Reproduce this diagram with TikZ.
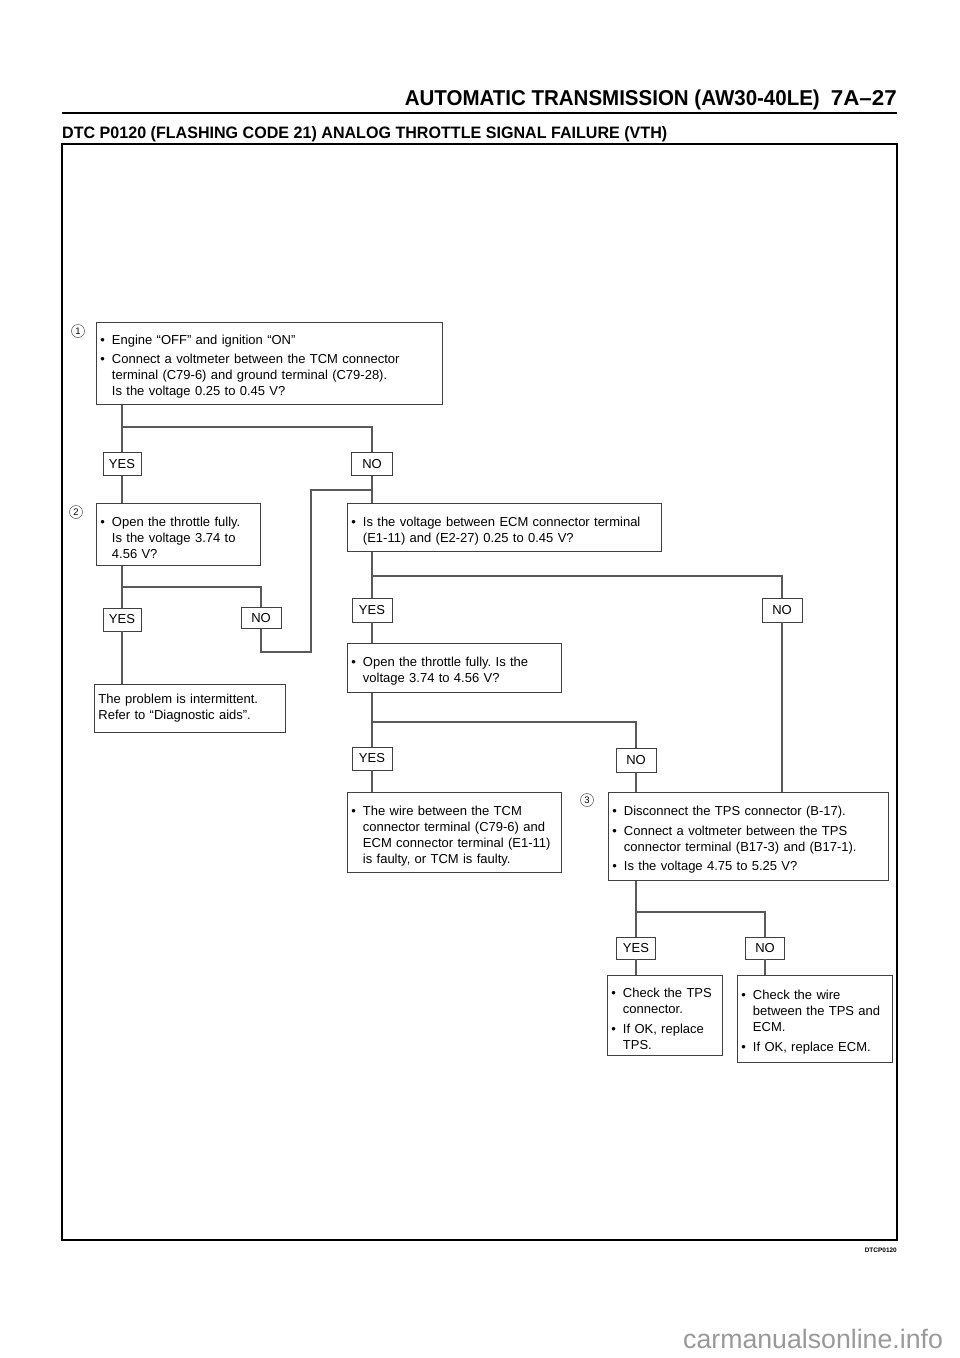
\documentclass[tikz,border=0pt]{standalone}
\usepackage{fontspec}
\setmainfont{Liberation Sans}
\usepackage{graphicx}
\usetikzlibrary{calc}
\frenchspacing
\newcommand\bodyf{\fontsize{13}{16}\selectfont\frenchspacing}
\newcommand\itm[1]{\par\hangindent=11.5pt\hangafter=1\noindent\makebox[11.5pt][l]{\textbullet}#1\par}
\newcommand\igap{\vspace{3.5pt}}
\newcommand\fitw[2]{\resizebox{#1}{\height}{#2}}
\begin{document}
\begin{tikzpicture}[x=1pt,y=-1pt,
  box/.style={draw=black!75, line width=0.9pt, inner xsep=4pt, inner ysep=3pt, anchor=north west, align=left, font=\bodyf},
  ans/.style={draw=black!75, line width=0.9pt, minimum height=23pt, inner sep=1pt, font=\bodyf},
  conn/.style={draw=black!65, line width=1.1pt},
  circ/.style={circle, draw=black!70, line width=0.5pt, inner sep=0pt, minimum size=13pt, font=\fontsize{9.5}{9.5}\selectfont}]
\useasboundingbox (0,0) rectangle (960,1358);

% header
\node[anchor=base east, inner sep=0pt] (hdr) at (820,105) {\fitw{415pt}{\bfseries\fontsize{21.5}{22}\selectfont AUTOMATIC TRANSMISSION (AW30-40LE)}};
\node[anchor=base east, inner sep=0pt] (pg) at (897,105) {\fitw{66pt}{\bfseries\fontsize{21.5}{22}\selectfont 7A–27}};
\draw[line width=2.2pt] (62,113) -- (897,113);
\node[anchor=base west, inner sep=0pt] (ttl) at (62,138.5) {\fitw{605pt}{\bfseries\fontsize{16.5}{17}\selectfont DTC P0120 (FLASHING CODE 21) ANALOG THROTTLE SIGNAL FAILURE (VTH)}};
\draw[line width=1.6pt] (62,144) rectangle (897,1240);
\node[anchor=base east, inner sep=0pt] (code) at (897,1252) {\fitw{32pt}{\bfseries\fontsize{6.5}{7}\selectfont DTCP0120}};
\node[anchor=base west, inner sep=0pt, text=black!40, font=\fontsize{26.7}{27}\selectfont] (wm) at (683,1348) {carmanualsonline.info};

% circled step numbers
\node[circ] (c1) at (78,331) {1};
\node[circ] (c2) at (76,512) {2};
\node[circ] (c3) at (587,800) {3};

% boxes
\node[box, minimum width=346pt, minimum height=82pt, text width=338pt] (b1) at (96,322) {%
\itm{Engine “OFF” and ignition “ON”}\igap
\itm{Connect a voltmeter between the TCM connector\newline terminal (C79-6) and ground terminal (C79-28).\newline Is the voltage 0.25 to 0.45 V?}};

\node[box, minimum width=164pt, minimum height=62pt, text width=156pt] (b2) at (96,503) {%
\itm{Open the throttle fully.\newline Is the voltage 3.74 to\newline 4.56 V?}};

\node[box, minimum width=314pt, minimum height=48pt, text width=306pt] (ecm) at (347,503) {%
\itm{Is the voltage between ECM connector terminal\newline (E1-11) and (E2-27) 0.25 to 0.45 V?}};

\node[box, minimum width=191pt, minimum height=48pt, text width=183pt] (inter) at (94,684) {%
The problem is intermittent.\newline Refer to “Diagnostic aids”.};

\node[box, minimum width=214pt, minimum height=49pt, text width=206pt] (thr) at (347,643) {%
\itm{Open the throttle fully. Is the\newline voltage 3.74 to 4.56 V?}};

\node[box, minimum width=214pt, minimum height=80pt, text width=206pt] (wire) at (347,792) {%
\itm{The wire between the TCM\newline connector terminal (C79-6) and\newline ECM connector terminal (E1-11)\newline is faulty, or TCM is faulty.}};

\node[box, minimum width=280pt, minimum height=88pt, text width=272pt] (b3) at (608,792) {%
\itm{Disconnect the TPS connector (B-17).}\igap
\itm{Connect a voltmeter between the TPS\newline connector terminal (B17-3) and (B17-1).}\igap
\itm{Is the voltage 4.75 to 5.25 V?}};

\node[box, minimum width=115pt, minimum height=80pt, text width=107pt] (tps) at (607,975) {%
\itm{Check the TPS\newline connector.}\igap
\itm{If OK, replace\newline TPS.}};

\node[box, minimum width=155pt, minimum height=87pt, text width=147pt] (ecmchk) at (737,975) {%
\itm{Check the wire\newline between the TPS and\newline ECM.}\igap
\itm{If OK, replace ECM.}};

% answer boxes
\node[ans, minimum width=38pt] (y1) at (122,464) {YES};
\node[ans, minimum width=41pt] (n1) at (372,464) {NO};
\node[ans, minimum width=38pt] (y2) at (122,619.5) {YES};
\node[ans, minimum width=40pt, minimum height=21pt] (n2) at (261,618) {NO};
\node[ans, minimum width=40pt, minimum height=24pt] (y5) at (372,610) {YES};
\node[ans, minimum width=40pt, minimum height=24pt] (n5) at (782,610) {NO};
\node[ans, minimum width=40pt] (y3) at (372,758.5) {YES};
\node[ans, minimum width=40pt, minimum height=24pt] (n3) at (636,760) {NO};
\node[ans, minimum width=39pt, minimum height=22pt] (y4) at (636,948) {YES};
\node[ans, minimum width=39pt, minimum height=22pt] (n4) at (765,948) {NO};

\coordinate (j1) at (372,490);

% connectors
\draw[conn] (b1.south -| y1.north) -- (y1.north);
\draw[conn] (y1.north |- 0,427) -| (n1.north);
\draw[conn] (y1.south) -- (y1.south |- b2.north);
\draw[conn] (n1.south) -- (n1.south |- ecm.north);
\draw[conn] (n2.south) -- ++(0,23) -| (311,490) -- (j1);

\draw[conn] (b2.south -| y2.north) -- (y2.north);
\draw[conn] (y2.north |- 0,587) -| (n2.north);
\draw[conn] (y2.south) -- (y2.south |- inter.north);

\draw[conn] (ecm.south -| y5.north) -- (y5.north);
\draw[conn] (y5.north |- 0,576) -| (n5.north);
\draw[conn] (y5.south) -- (y5.south |- thr.north);
\draw[conn] (n5.south) -- (n5.south |- b3.north);

\draw[conn] (thr.south -| y3.north) -- (y3.north);
\draw[conn] (y3.north |- 0,722) -| (n3.north);
\draw[conn] (y3.south) -- (y3.south |- wire.north);
\draw[conn] (n3.south) -- (n3.south |- b3.north);

\draw[conn] (b3.south -| y4.north) -- (y4.north);
\draw[conn] (y4.north |- 0,912) -| (n4.north);
\draw[conn] (y4.south) -- (y4.south |- tps.north);
\draw[conn] (n4.south) -- (n4.south |- ecmchk.north);
\end{tikzpicture}
\end{document}
